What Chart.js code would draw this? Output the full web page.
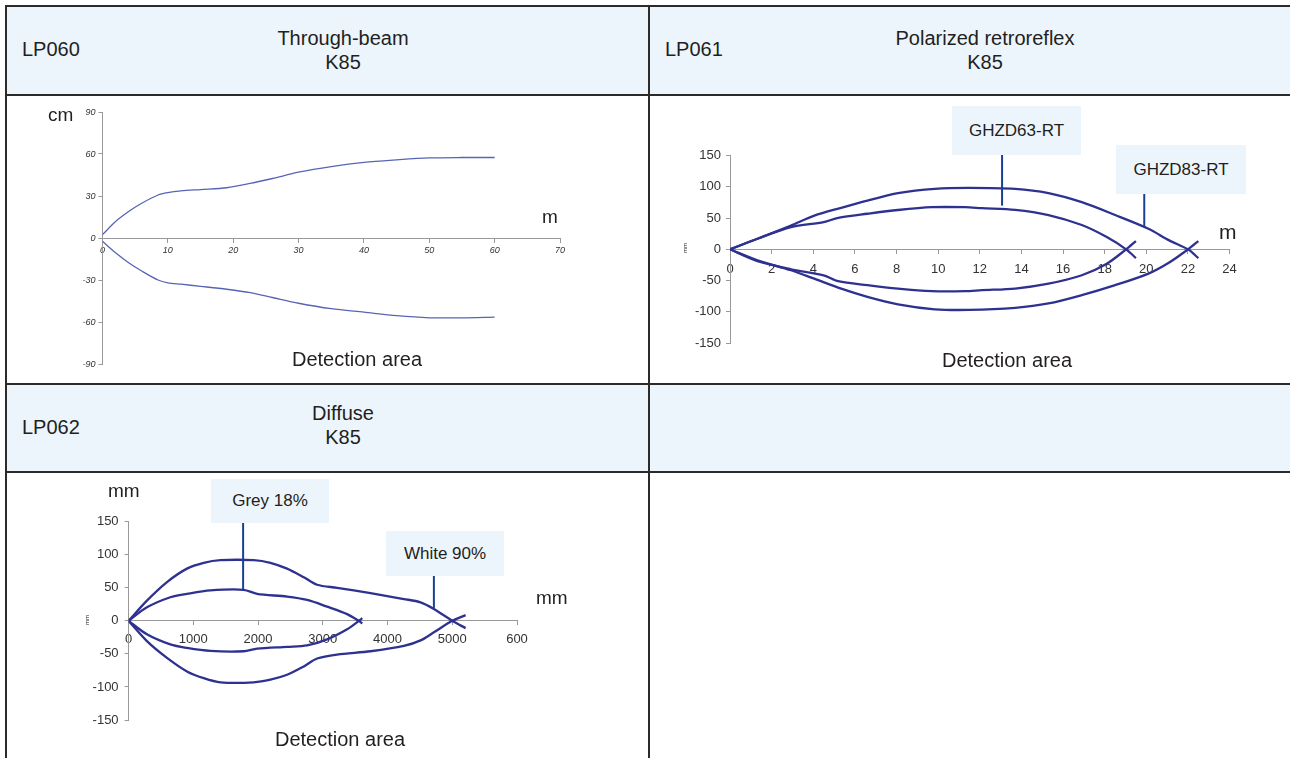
<!DOCTYPE html>
<html>
<head>
<meta charset="utf-8">
<script src="https://cdn.jsdelivr.net/npm/chart.js@4/dist/chart.umd.min.js"></script>
<style>
  body { margin: 0; width: 1290px; height: 758px; background: #fff; position: relative; overflow: hidden;
         font-family: "Liberation Sans", Arial, sans-serif; color: #231f20; }
  .hdr { position: absolute; background: #edf5fc; }
  .ln { position: absolute; background: #2d2a2a; }
  .t { position: absolute; white-space: nowrap; }
  .c { transform: translateX(-50%); text-align: center; }
  .lbl { position: absolute; font-size: 20px; }
  .box { position: absolute; background: #edf5fc; font-size: 17px; display: flex; align-items: center; justify-content: center; }
  .cell { position: absolute; }
  .tiny { position: absolute; font-size: 6px; transform: rotate(-90deg); transform-origin: center; }
</style>
</head>
<body>
<!-- header backgrounds -->
<div class="hdr" style="left:7px;top:7px;width:1283px;height:87px"></div>
<div class="hdr" style="left:7px;top:385px;width:1283px;height:86px"></div>

<!-- table lines -->
<div class="ln" style="left:5px;top:5px;width:1285px;height:2px"></div>
<div class="ln" style="left:5px;top:94px;width:1285px;height:2px"></div>
<div class="ln" style="left:5px;top:383px;width:1285px;height:2px"></div>
<div class="ln" style="left:5px;top:471px;width:1285px;height:2px"></div>
<div class="ln" style="left:5px;top:5px;width:2px;height:753px"></div>
<div class="ln" style="left:648px;top:5px;width:2px;height:753px"></div>

<!-- header texts -->
<div class="t" style="left:22px;top:38px;font-size:20px">LP060</div>
<div class="t c" style="left:343px;top:26px;font-size:20px;line-height:24px">Through-beam<br>K85</div>
<div class="t" style="left:665px;top:38px;font-size:20px">LP061</div>
<div class="t c" style="left:985px;top:26px;font-size:20px;line-height:24px">Polarized retroreflex<br>K85</div>
<div class="t" style="left:22px;top:416px;font-size:20px">LP062</div>
<div class="t c" style="left:343px;top:401px;font-size:20px;line-height:24px">Diffuse<br>K85</div>

<div class="cell" style="left:7px;top:96px;width:641px;height:287px"><canvas id="beam"></canvas></div>
<div class="cell" style="left:650px;top:96px;width:640px;height:287px"><canvas id="retro"></canvas></div>
<div class="cell" style="left:7px;top:473px;width:641px;height:285px"><canvas id="diffuse"></canvas></div>

<!-- axis units and captions -->
<div class="lbl" style="left:48px;top:104px;font-size:19px">cm</div>
<div class="lbl" style="left:542px;top:206px;font-size:19px">m</div>
<div class="lbl c" style="left:357px;top:348px">Detection area</div>

<div class="lbl" style="left:1219px;top:220px;font-size:21px">m</div>
<div class="lbl c" style="left:1007px;top:349px">Detection area</div>
<div class="tiny" style="left:680px;top:245px">mm</div>
<div class="box" style="left:952px;top:106px;width:129px;height:49px">GHZD63-RT</div>
<div class="box" style="left:1116px;top:145px;width:130px;height:49px">GHZD83-RT</div>

<div class="lbl" style="left:108px;top:480px;font-size:19px">mm</div>
<div class="lbl" style="left:536px;top:587px;font-size:19px">mm</div>
<div class="lbl c" style="left:340px;top:728px">Detection area</div>
<div class="tiny" style="left:82px;top:617px">mm</div>
<div class="box" style="left:211px;top:479px;width:118px;height:44px">Grey 18%</div>
<div class="box" style="left:386px;top:531px;width:118px;height:45px">White 90%</div>

<script>
// LP060 through-beam (cm vs m)
const beamX = [0, 2, 4, 6, 8.5, 10, 12, 15, 19, 22.6, 26, 30, 35, 40, 45, 50, 55, 60];
const beamUpper = [2.4, 11.8, 18.9, 24.8, 30.7, 32.4, 33.6, 34.6, 35.9, 39, 42.5, 47, 51, 54, 55.8, 57.2, 57.5, 57.5];
const beamLower = [-2.4, -10.6, -17.7, -23.6, -30, -32, -33, -34.5, -36.6, -39, -42.5, -46.6, -50.5, -53, -55.5, -57, -57, -56.5];
const beamXTicks = [0, 10, 20, 30, 40, 50, 60, 70];
const beamYTicks = [-90, -60, -30, 0, 30, 60, 90];

// LP061 polarized retroreflex (mm vs m)
const rt63X = [0, 1.32, 2.93, 4.5, 5.2, 6.6, 8.07, 9.7, 11.3, 12.1, 13.7, 15.3, 16.9, 18.1, 19.03, 19.5];
const rt63Upper = [0, 17, 35.6, 43.6, 50.5, 57, 63, 67.5, 67.5, 66, 63.3, 55, 39, 19.7, 0, -14];
const rt63Lower = [0, -19, -32, -41.5, -51, -57.4, -63, -67, -67, -65.4, -62.8, -55, -41.5, -23, 0, 13.3];
const rt83X = [0, 1.32, 2.93, 4.05, 5.34, 6.6, 8.07, 9.84, 11.5, 13.7, 15.3, 16.9, 18.5, 20.1, 21.1, 22, 22.5];
const rt83Upper = [0, 17, 38, 54, 66.5, 78, 90, 97, 98.5, 96.8, 90, 75.5, 55, 33, 14.4, 0, -14];
const rt83Lower = [0, -17.5, -33.5, -47, -63, -76, -88, -96, -97, -93.6, -86.7, -73.4, -57.4, -38.8, -21, 0, 13.3];
const retroXTicks = [0, 2, 4, 6, 8, 10, 12, 14, 16, 18, 20, 22, 24];
const retroYTicks = [-150, -100, -50, 0, 50, 100, 150];

// LP062 diffuse (mm vs mm)
const greyX = [0, 283, 644, 902, 1263, 1778, 1985, 2448, 2758, 3067, 3376, 3557, 3610];
const greyUpper = [0, 20.4, 35.7, 40.8, 46, 47, 40.8, 36.7, 31.6, 21.4, 10.2, 0, -4];
const greyLower = [0, -20.4, -35.7, -41, -45.5, -46, -42, -39.3, -37.2, -28, -12.8, 0, 4];
const whiteX = [0, 283, 593, 902, 1160, 1418, 1933, 2191, 2448, 2706, 2912, 3221, 3737, 4253, 4510, 4716, 5000, 5206];
const whiteUpper = [0, 30.6, 58.7, 79, 87.8, 91.8, 91.8, 87.8, 79, 66, 54.6, 50, 41.8, 33, 28, 17.9, 0, -11];
const whiteLower = [0, -30.6, -56, -76.5, -86.7, -93, -93, -89, -81.6, -69, -57, -51, -46, -38, -29.6, -17.4, 0, 8.7];
const diffuseXTicks = ['0', '1000', '2000', '3000', '4000', '5000', '600'];
const diffuseYTicks = [-150, -100, -50, 0, 50, 100, 150];

// callout leaders, in data units: [x, yFrom, yTo]
const retroLeaders = [[13.07, 156, 70], [19.9, 92, 36]];
const diffuseLeaders = [[1769, 148, 48], [4716, 68, 19]];

Chart.defaults.font.family = '"Liberation Sans", Arial, sans-serif';
Chart.defaults.color = '#333';

function pts(xs, ys) {
  return xs.map((x, i) => ({ x: x, y: ys[i] }));
}

function curve(xs, ys, color, width) {
  return {
    data: pts(xs, ys),
    showLine: true,
    borderColor: color,
    borderWidth: width,
    pointRadius: 0,
    tension: 0.3,
    fill: false
  };
}

// draws the vertical lines from the label boxes down to the curves
const leaderPlugin = {
  id: 'leaders',
  afterDatasetsDraw(chart, args, opts) {
    if (!opts.lines) return;
    const ctx = chart.ctx;
    const xs = chart.scales.x, ys = chart.scales.y;
    ctx.save();
    ctx.strokeStyle = '#1c3f95';
    ctx.lineWidth = 2;
    opts.lines.forEach(l => {
      const px = xs.getPixelForValue(l[0]);
      ctx.beginPath();
      ctx.moveTo(px, ys.getPixelForValue(l[1]));
      ctx.lineTo(px, ys.getPixelForValue(l[2]));
      ctx.stroke();
    });
    ctx.restore();
  }
};

// cell = canvas box on the page, area = wanted plot area on the page
function makeChart(id, cell, area, yWidth, datasets, sc, leaders) {
  const padding = {
    left: area.L - cell.x - yWidth,
    top: area.T - cell.y,
    right: cell.x + cell.w - area.R,
    bottom: cell.y + cell.h - area.B
  };
  return new Chart(document.getElementById(id), {
    type: 'scatter',
    data: { datasets: datasets },
    plugins: [leaderPlugin],
    options: {
      responsive: true,
      maintainAspectRatio: false,
      animation: false,
      layout: { padding: padding },
      plugins: { legend: { display: false }, tooltip: { enabled: false }, leaders: { lines: leaders } },
      scales: {
        x: {
          type: 'linear',
          position: { y: 0 },
          min: 0,
          max: sc.xMax,
          afterBuildTicks: s => { s.ticks = sc.xVals.map(v => ({ value: v })); },
          ticks: {
            font: sc.font,
            padding: sc.xPad,
            maxRotation: 0,
            autoSkip: false,
            callback: (v, i) => sc.xTicks[i]
          },
          grid: { drawOnChartArea: false, tickLength: 4, color: '#999' },
          border: { color: '#999', width: 1 }
        },
        y: {
          type: 'linear',
          position: 'left',
          min: sc.yTicks[0],
          max: sc.yTicks[sc.yTicks.length - 1],
          afterBuildTicks: s => { s.ticks = sc.yTicks.map(v => ({ value: v })); },
          afterFit: s => { s.width = yWidth; },
          ticks: { font: sc.font, padding: sc.yPad, autoSkip: false },
          grid: { drawOnChartArea: false, tickLength: 4, color: '#999' },
          border: { color: '#999', width: 1 }
        }
      }
    }
  });
}

const thin = '#5864b4';
const navy = '#2e3190';

makeChart('beam',
  { x: 7, y: 96, w: 641, h: 287 },
  { L: 102.5, R: 560, T: 112, B: 364 }, 40,
  [curve(beamX, beamUpper, thin, 1.3), curve(beamX, beamLower, thin, 1.3)],
  { xTicks: beamXTicks, xVals: beamXTicks, xMax: 70, yTicks: beamYTicks,
    font: { size: 9, style: 'italic' }, xPad: 3, yPad: 3 },
  null);

makeChart('retro',
  { x: 650, y: 96, w: 640, h: 287 },
  { L: 730, R: 1229.6, T: 155.7, B: 343 }, 45,
  [curve(rt63X, rt63Upper, navy, 2.3), curve(rt63X, rt63Lower, navy, 2.3),
   curve(rt83X, rt83Upper, navy, 2.3), curve(rt83X, rt83Lower, navy, 2.3)],
  { xTicks: retroXTicks, xVals: retroXTicks, xMax: 24, yTicks: retroYTicks,
    font: { size: 13 }, xPad: 8, yPad: 5 },
  retroLeaders);

makeChart('diffuse',
  { x: 7, y: 473, w: 641, h: 285 },
  { L: 128.6, R: 517, T: 521.7, B: 720 }, 45,
  [curve(greyX, greyUpper, navy, 2.3), curve(greyX, greyLower, navy, 2.3),
   curve(whiteX, whiteUpper, navy, 2.3), curve(whiteX, whiteLower, navy, 2.3)],
  { xTicks: diffuseXTicks, xVals: [0, 1000, 2000, 3000, 4000, 5000, 6000], xMax: 6000, yTicks: diffuseYTicks,
    font: { size: 13 }, xPad: 7, yPad: 6 },
  diffuseLeaders);
</script>
</body>
</html>
